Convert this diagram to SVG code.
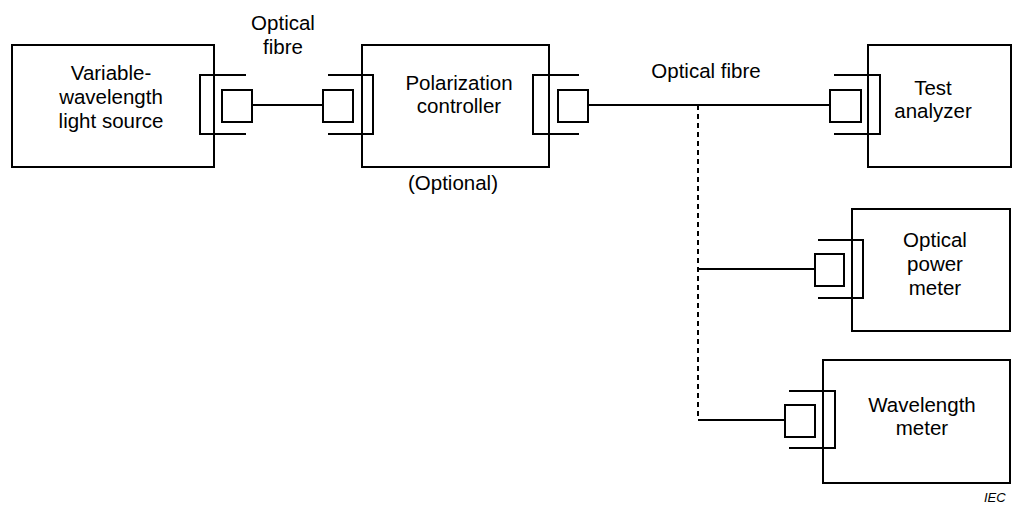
<svg xmlns="http://www.w3.org/2000/svg" width="1012" height="506" viewBox="0 0 1012 506">
<style>
.b{fill:none;stroke:#000;stroke-width:2}
.l{fill:none;stroke:#000;stroke-width:2}
.d{fill:none;stroke:#000;stroke-width:2;stroke-dasharray:5 4}
text{font-family:"Liberation Sans",Arial,sans-serif;font-size:20.5px;fill:#000;text-anchor:middle}
.iec{font-size:13px;font-style:italic;text-anchor:start}
</style>
<rect width="1012" height="506" fill="#fff"/>
<g id="source">
<rect class="b" x="12" y="45" width="202" height="122"/>
<path class="b" d="M246,75H200V134H246"/>
<rect class="b" x="222" y="90" width="30" height="32"/>
<text x="111" y="80">Variable-</text>
<text x="111" y="104">wavelength</text>
<text x="111" y="128">light source</text>
</g>
<g id="polarization">
<rect class="b" x="362" y="45" width="187" height="122"/>
<path class="b" d="M328,75H373V134H328"/>
<rect class="b" x="323" y="90" width="30" height="32"/>
<path class="b" d="M579,75H533V134H579"/>
<rect class="b" x="558" y="90" width="30" height="32"/>
<text x="459" y="90">Polarization</text>
<text x="459" y="113">controller</text>
<text x="453" y="190">(Optional)</text>
</g>
<g id="analyzer">
<rect class="b" x="868" y="45" width="143" height="122"/>
<path class="b" d="M834,75H880V134H834"/>
<rect class="b" x="830" y="90" width="31" height="32"/>
<text x="933" y="95">Test</text>
<text x="933" y="118">analyzer</text>
</g>
<g id="powermeter">
<rect class="b" x="852" y="209" width="158" height="122"/>
<path class="b" d="M818,240H863V298H818"/>
<rect class="b" x="815" y="254" width="29" height="32"/>
<text x="935" y="247">Optical</text>
<text x="935" y="271">power</text>
<text x="935" y="295">meter</text>
</g>
<g id="wavemeter">
<rect class="b" x="823" y="360" width="187" height="123"/>
<path class="b" d="M789,391H835V448H789"/>
<rect class="b" x="785" y="405" width="30" height="32"/>
<text x="922" y="412">Wavelength</text>
<text x="922" y="435">meter</text>
</g>
<g id="connectors">
<path class="l" d="M252,105H323"/>
<path class="l" d="M588,105H830"/>
<path class="d" d="M698,105V420"/>
<path class="l" d="M698,269H815"/>
<path class="l" d="M698,420H785"/>
<text x="283" y="30">Optical</text>
<text x="283" y="54">fibre</text>
<text x="706" y="78">Optical fibre</text>
</g>
<text class="iec" x="984" y="502">IEC</text>
</svg>
